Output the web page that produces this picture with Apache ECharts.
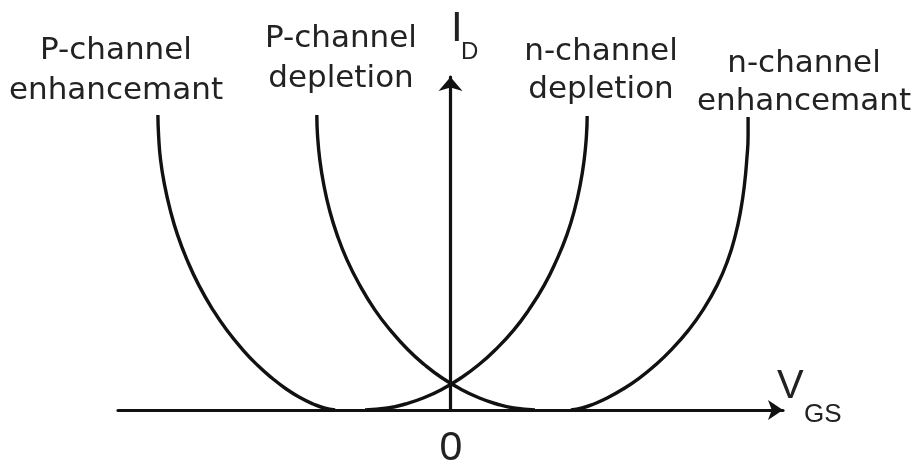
<!DOCTYPE html>
<html>
<head>
<meta charset="utf-8">
<title>MOSFET transfer characteristics</title>
<script src="https://cdn.jsdelivr.net/npm/echarts@6/dist/echarts.min.js"></script>
<style>
  html, body { margin: 0; padding: 0; background: #fff; }
  #main { width: 913px; height: 462px; }
</style>
</head>
<body>
<div id="main"></div>
<script>
// curve readings, V_GS (x) and I_D (y) in chart units
const pEnhV = [-8.80, -8.78, -8.72, -8.60, -8.43, -8.21, -7.92, -7.57, -7.14, -6.73, -6.24, -5.81, -5.37, -4.94, -4.50, -4.13, -3.80, -3.47];
const pEnhI = [8.86, 8.26, 7.51, 6.76, 6.01, 5.26, 4.50, 3.75, 3.00, 2.40, 1.80, 1.35, 0.96, 0.63, 0.36, 0.18, 0.06, 0];

const pDepV = [-4.02, -4.00, -3.93, -3.81, -3.64, -3.41, -3.11, -2.73, -2.27, -1.81, -1.27, -0.77, -0.25, 0.30, 0.87, 1.39, 1.90, 2.54];
const pDepI = [8.86, 8.26, 7.51, 6.76, 6.01, 5.26, 4.50, 3.75, 3.00, 2.40, 1.80, 1.35, 0.96, 0.63, 0.36, 0.18, 0.06, 0];

const nDepV = [4.11, 4.09, 4.02, 3.90, 3.73, 3.50, 3.19, 2.82, 2.35, 1.90, 1.34, 0.84, 0.31, -0.24, -0.82, -1.36, -1.89, -2.57];
const nDepI = [8.83, 8.26, 7.51, 6.76, 6.01, 5.26, 4.50, 3.75, 3.00, 2.40, 1.80, 1.35, 0.96, 0.63, 0.36, 0.18, 0.06, 0];

const nEnhV = [8.95, 8.95, 8.91, 8.84, 8.73, 8.57, 8.34, 8.02, 7.59, 7.16, 6.63, 6.16, 5.68, 5.19, 4.71, 4.31, 3.96, 3.62];
const nEnhI = [8.80, 8.26, 7.51, 6.76, 6.01, 5.26, 4.50, 3.75, 3.00, 2.40, 1.80, 1.35, 0.96, 0.63, 0.36, 0.18, 0.06, 0];

const curveNames = ["P-channel\nenhancemant", "P-channel\ndepletion", "n-channel\ndepletion", "n-channel\nenhancemant"];
const originLabel = "0";

function pairs(xs, ys) {
  return xs.map((x, i) => [x, ys[i]]);
}

const chart = echarts.init(document.getElementById("main"));

const ink = "#111";
const textInk = "#222";

function curve(name, xs, ys) {
  return {
    name: name,
    type: "line",
    data: pairs(xs, ys),
    smooth: 0.5,
    showSymbol: false,
    clip: false,
    silent: true,
    lineStyle: { color: ink, width: 3.4 },
  };
}

function label(text, x, y, size, family, lh) {
  return {
    type: "text",
    x: x,
    y: y,
    silent: true,
    style: {
      text: text,
      fill: textInk,
      fontSize: size,
      fontFamily: family,
      lineHeight: lh,
      align: "center",
      verticalAlign: "top",
      textAlign: "center",
      textVerticalAlign: "top",
    },
  };
}

function glyph(text, x, y, size, align) {
  return {
    type: "text",
    x: x,
    y: y,
    silent: true,
    style: {
      text: text,
      fill: textInk,
      fontSize: size,
      fontFamily: "Liberation Sans",
      align: align,
      verticalAlign: "middle",
      textAlign: align,
      textVerticalAlign: "middle",
    },
  };
}

const options = {
  animation: false,
  backgroundColor: "#fff",
  grid: { left: 118, right: 130, top: 77, bottom: 52 },
  xAxis: {
    type: "value",
    min: -10,
    max: 10,
    axisLine: {
      onZero: true,
      symbol: ["none", "arrow"],
      symbolSize: [15, 15],
      lineStyle: { color: ink, width: 3.2 },
    },
    axisTick: { show: false },
    axisLabel: { show: false },
    splitLine: { show: false },
  },
  yAxis: {
    type: "value",
    min: 0,
    max: 10,
    axisLine: {
      onZero: true,
      symbol: ["none", "arrow"],
      symbolSize: [18, 14],
      lineStyle: { color: ink, width: 3.2 },
    },
    axisTick: { show: false },
    axisLabel: { show: false },
    splitLine: { show: false },
  },
  series: [
    curve(curveNames[0], pEnhV, pEnhI),
    curve(curveNames[1], pDepV, pDepI),
    curve(curveNames[2], nDepV, nDepI),
    curve(curveNames[3], nEnhV, nEnhI),
  ],
  graphic: [
    label(curveNames[0], 116, 31, 31, "DejaVu Sans", 40),
    label(curveNames[1], 341, 19, 31, "DejaVu Sans", 40),
    label(curveNames[2], 601, 33, 31, "DejaVu Sans", 38),
    label(curveNames[3], 804, 45, 31, "DejaVu Sans", 38),
    glyph("I", 451, 29, 42, "left"),
    glyph("D", 461, 52, 24, "left"),
    glyph("V", 777, 387, 40, "left"),
    glyph("GS", 804, 415, 26, "left"),
    glyph(originLabel, 451, 449, 41, "center"),
  ],
};

chart.setOption(options);
</script>
</body>
</html>
